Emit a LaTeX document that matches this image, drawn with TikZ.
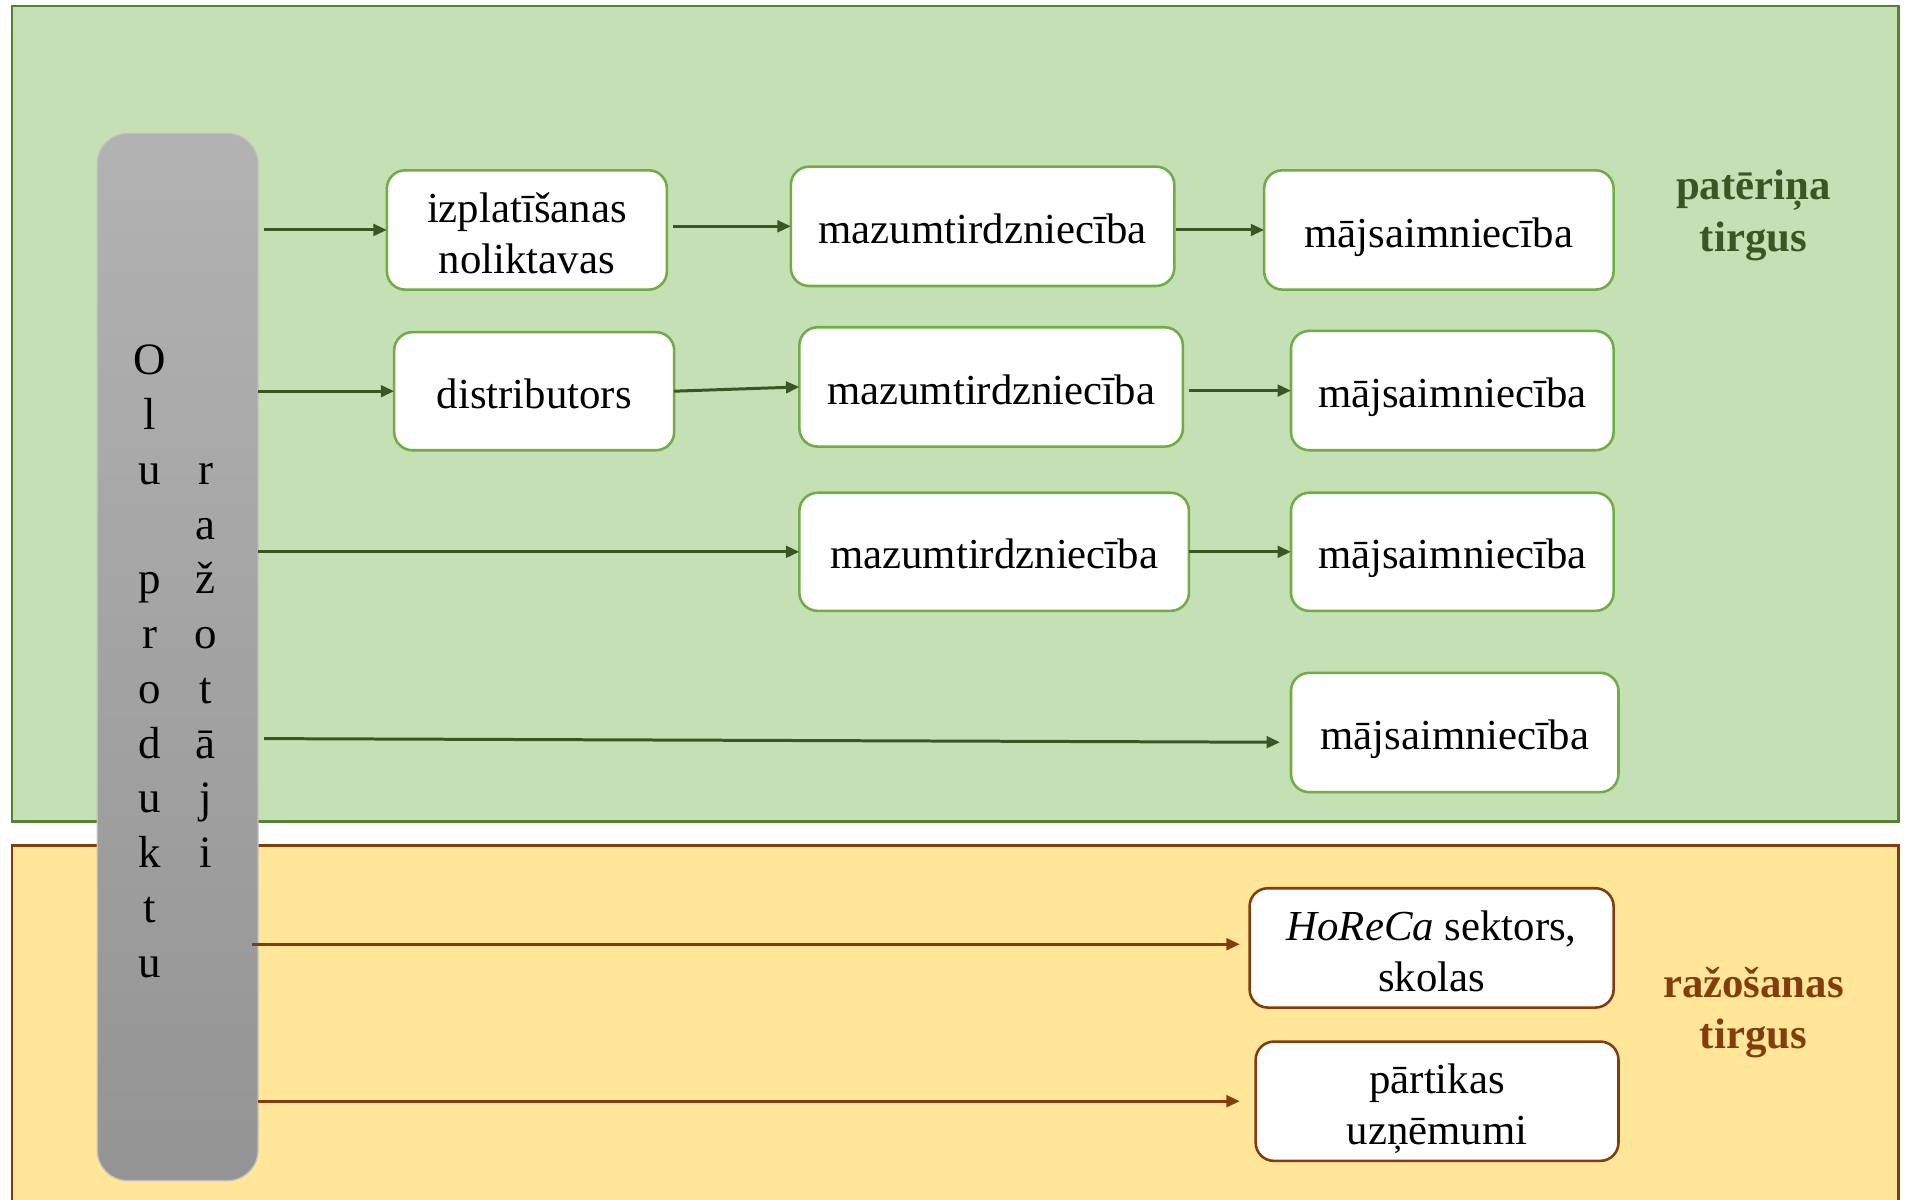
\documentclass[tikz,border=0pt]{standalone}
\usepackage{fontspec}
\setmainfont{Liberation Serif}
\usetikzlibrary{arrows.meta,calc}
\definecolor{gfill}{HTML}{C5E0B4}
\definecolor{gborder}{HTML}{548235}
\definecolor{gbox}{HTML}{70AD47}
\definecolor{garrow}{HTML}{385723}
\definecolor{yfill}{HTML}{FFE699}
\definecolor{brownc}{HTML}{843C0C}
\newcommand\topstrut[1]{\rule{0pt}{#1}}
\tikzset{
  box/.style={draw=gbox, line width=0.6pt, fill=white, rounded corners=0.15cm,
    align=center, inner sep=0pt, outer sep=0pt, font=\fontsize{10}{12}\selectfont},
  onebox/.style={box, text height=8.6pt, text depth=0.6pt},
  ybox/.style={box, draw=brownc},
  arr/.style={draw=garrow, line width=0.7pt, -{Triangle[length=0.11cm,width=0.095cm]}},
  yarr/.style={arr, draw=brownc},
  letter/.style={anchor=base, inner sep=0pt, font=\fontsize{10.5}{12}\selectfont},
  market/.style={align=center, font=\fontsize{10}{12}\selectfont\bfseries}
}
\begin{document}
\begin{tikzpicture}[x=0.01cm,y=-0.01cm]
\useasboundingbox (0,0) rectangle (1568,986);
% market areas
\path[fill=gfill, draw=gborder, line width=0.6pt] (10,5) rectangle (1560,675);
\path[fill=yfill, draw=brownc, line width=0.6pt] (10,695) rectangle (1560,1010);
% producers bar
\node (bar) [minimum width=1.32cm, minimum height=8.6cm, rounded corners=0.25cm,
  top color=black!30, bottom color=black!42, draw=black!25, line width=0.3pt,
  inner sep=0pt, outer sep=0pt] at (146,540) {};
\foreach \ch [count=\i from 0] in {O,l,u,{},p,r,o,d,u,k,t,u}
  \node[letter] (pa\i) at (123,{308+45*\i}) {\ch};
\foreach \ch [count=\i from 2] in {r,a,ž,o,t,ā,j,i}
  \node[letter] (pb\i) at (169,{308+45*\i}) {\ch};
% boxes
\node[box, minimum width=2.30cm, minimum height=0.98cm] (izpl) at (433,189) {\topstrut{8.6pt}izplatīšanas\\noliktavas};
\node[onebox, minimum width=3.15cm, minimum height=0.98cm] (maz1) at (807.5,186) {mazumtirdzniecība};
\node[onebox, minimum width=2.87cm, minimum height=0.98cm] (maj1) at (1182.5,189) {mājsaimniecība};
\node[onebox, minimum width=2.30cm, minimum height=0.97cm] (dist) at (439,321.5) {distributors};
\node[onebox, minimum width=3.15cm, minimum height=0.98cm] (maz2) at (814.5,318) {mazumtirdzniecība};
\node[onebox, minimum width=2.65cm, minimum height=0.98cm] (maj2) at (1193.5,321) {mājsaimniecība};
\node[onebox, minimum width=3.20cm, minimum height=0.97cm] (maz3) at (817,453.5) {mazumtirdzniecība};
\node[onebox, minimum width=2.65cm, minimum height=0.97cm] (maj3) at (1193.5,453.5) {mājsaimniecība};
\node[onebox, minimum width=2.69cm, minimum height=0.98cm] (maj4) at (1195.5,602) {mājsaimniecība};
\node[ybox, minimum width=2.99cm, minimum height=0.98cm] (hore) at (1176.5,779) {\topstrut{8.6pt}\textit{HoReCa} sektors,\\skolas};
\node[ybox, minimum width=2.98cm, minimum height=0.98cm] (part) at (1181,905) {\topstrut{10.4pt}pārtikas\\uzņēmumi};
% market labels
\node[market, text=garrow] (lab1) at (1441,177) {patēriņa\\tirgus};
\node[market, text=brownc] (lab2) at (1441,832) {ražošanas\\tirgus};
% arrows
\draw[arr] ([xshift=0.05cm]bar.east |- izpl.west) -- (izpl.west);
\draw[arr] ([xshift=0.05cm]izpl.east |- maz1.west) -- (maz1.west);
\draw[arr] ([xshift=0.01cm]maz1.east |- maj1.west) -- (maj1.west);
\draw[arr] (bar.east |- dist.west) -- (dist.west);
\draw[arr] (dist.east) -- (maz2.west);
\draw[arr] ($(maz2.east)+(5,3)$) -- (maj2.west);
\draw[arr] (bar.east |- maz3.west) -- (maz3.west);
\draw[arr] (maz3.east) -- (maj3.west);
\draw[arr] ($(bar.east |- maj4.west)+(5,5)$) -- ($(maj4.west)+(-9,8)$);
\draw[yarr] ($(bar.east |- hore.west)+(-5,-3)$) -- ($(hore.west)+(-8,-3)$);
\draw[yarr] (bar.east |- part.west) -- ($(part.west)+(-13,0)$);
\end{tikzpicture}
\end{document}
